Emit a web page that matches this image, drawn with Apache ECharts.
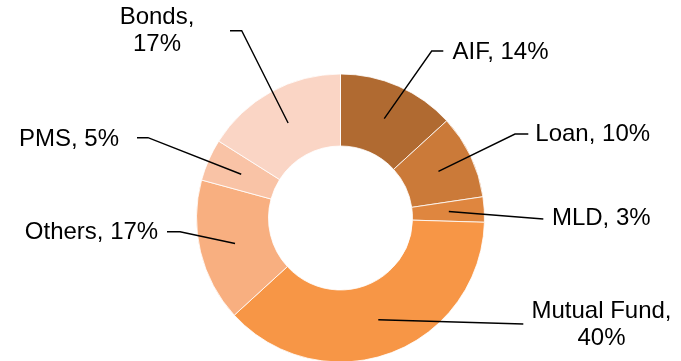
<!DOCTYPE html>
<html>
<head>
<meta charset="utf-8">
<script src="https://cdn.jsdelivr.net/npm/echarts@6/dist/echarts.min.js"></script>
<style>html,body{margin:0;padding:0;background:#fff;}#c{width:681px;height:361px;}</style>
</head>
<body>
<div id="c"></div>
<script>
const categories = ['AIF', 'Loan', 'MLD', 'Mutual Fund', 'Others', 'PMS', 'Bonds'];
const values = [14, 10, 3, 40, 17, 5, 17];
const colors = ['#B06A31', '#CB7A39', '#DF863F', '#F79646', '#F8AF80', '#F9C3A6', '#FAD5C5'];

// layout (label anchor positions and leader line bends), not data
const CX = 340.5, CY = 218, R0 = 72, R1 = 144, RA = 108.5;
const labelPos = [
  {x: 500.5, y: 52.7, wrap: false, bend: [431.7, 51], end: [443.3, 51]},
  {x: 592.7, y: 134.4, wrap: false, bend: [515, 134], end: [528.3, 134]},
  {x: 601.3, y: 218.4, wrap: false, bend: [543.3, 219], end: [543.3, 219]},
  {x: 601.5, y: 325.2, wrap: true, bend: [523.3, 324], end: [523.3, 324]},
  {x: 91.5, y: 232.4, wrap: false, bend: [180, 231.7], end: [167, 231.7]},
  {x: 69, y: 139.7, wrap: false, bend: [148, 137.7], end: [137, 137.7]},
  {x: 157, y: 31.2, wrap: true, bend: [241.7, 30.7], end: [230, 30.7]}
];

const total = values.reduce((a, b) => a + b, 0);
const midAngles = [];
let cum = 0;
values.forEach(v => { midAngles.push((cum + v / 2) / total * Math.PI * 2); cum += v; });

const chart = echarts.init(document.getElementById('c'), null, {renderer: 'canvas'});
chart.setOption({
  animation: false,
  backgroundColor: '#fff',
  series: [{
    type: 'pie',
    z: 2,
    center: [CX, CY],
    radius: [R0, R1],
    startAngle: 90,
    clockwise: true,
    silent: true,
    label: {show: false},
    labelLine: {show: false},
    itemStyle: {borderColor: '#ffffff', borderWidth: 0.8},
    emphasis: {disabled: true},
    data: categories.map((c, i) => ({name: c, value: values[i], itemStyle: {color: colors[i]}}))
  }, {
    type: 'pie',
    z: 5,
    center: [CX, CY],
    radius: [R0, R1],
    startAngle: 90,
    clockwise: true,
    silent: true,
    avoidLabelOverlap: false,
    itemStyle: {color: 'rgba(0,0,0,0)', borderWidth: 0},
    label: {
      show: true,
      position: 'outside',
      color: '#000',
      fontFamily: 'Liberation Sans, Arial, sans-serif',
      fontSize: 24,
      lineHeight: 27,
      align: 'center',
      formatter: p => p.name + ',' + (labelPos[p.dataIndex].wrap ? '\n' : ' ') + p.value + '%'
    },
    labelLine: {show: true, length: 10, length2: 10, smooth: false, lineStyle: {color: '#000', width: 1.4}},
    labelLayout: function (p) {
      const i = p.dataIndex;
      const a = midAngles[i];
      const anchor = [CX + RA * Math.sin(a), CY - RA * Math.cos(a)];
      const L = labelPos[i];
      return {
        x: L.x, y: L.y, align: 'center', verticalAlign: 'middle',
        labelLinePoints: [anchor, L.bend, L.end]
      };
    },
    emphasis: {disabled: true},
    data: categories.map((c, i) => ({name: c, value: values[i]}))
  }]
});
</script>
</body>
</html>
